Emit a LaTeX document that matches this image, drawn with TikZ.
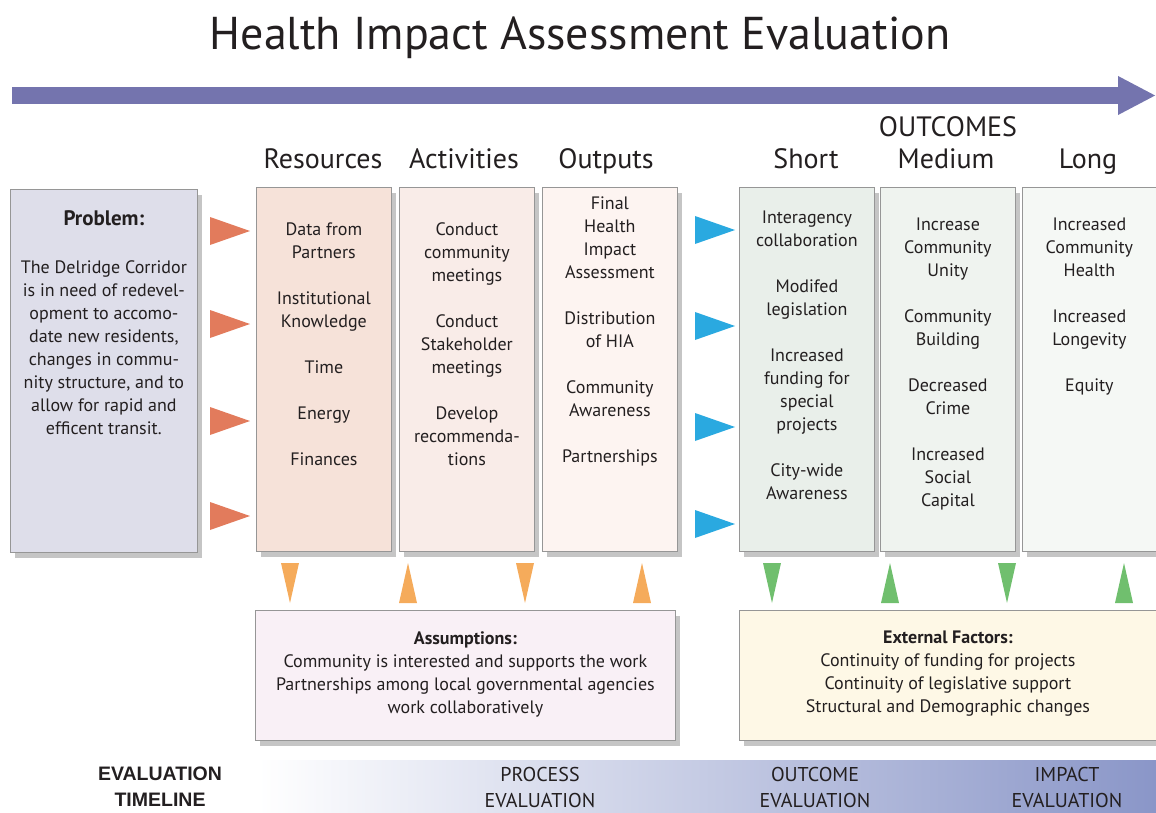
\documentclass[tikz,border=0pt]{standalone}
\usepackage{fontspec}
\setmainfont{PT Sans}
\newfontfamily\tlfont{Liberation Sans}
\usetikzlibrary{shapes,arrows.meta,positioning,shadows}
\definecolor{ink}{RGB}{35,31,32}
\definecolor{boxline}{RGB}{150,150,150}
\definecolor{arrowfill}{RGB}{116,116,174}
\definecolor{probfill}{RGB}{222,222,234}
\definecolor{resfill}{RGB}{246,226,217}
\definecolor{actfill}{RGB}{249,236,232}
\definecolor{outfill}{RGB}{253,244,241}
\definecolor{shortfill}{RGB}{233,239,234}
\definecolor{medfill}{RGB}{239,243,239}
\definecolor{longfill}{RGB}{245,248,245}
\definecolor{assumfill}{RGB}{249,240,246}
\definecolor{extfill}{RGB}{254,248,230}
\definecolor{inorange}{RGB}{226,123,92}
\definecolor{inblue}{RGB}{42,169,224}
\definecolor{loworange}{RGB}{245,171,91}
\definecolor{lowgreen}{RGB}{112,191,110}
\definecolor{tlblue}{RGB}{138,150,200}
\tikzstyle{panel} = [draw=boxline,line width=0.8pt,rectangle,inner sep=0,anchor=north west,drop shadow={shadow xshift=5pt,shadow yshift=-6pt,fill=black!60,opacity=.38}]
\tikzstyle{column} = [panel,minimum width=135pt,minimum height=364pt]
\tikzstyle{head} = [anchor=base,font=\fontsize{28}{30}\selectfont,text=ink,inner sep=0]
\tikzstyle{entries} = [align=center,font=\fontsize{18}{23}\selectfont,text=ink,inner sep=0]
\tikzstyle{notes} = [align=center,font=\fontsize{18}{23}\selectfont,text=ink,inner sep=0]
\tikzstyle{phase} = [align=center,font=\fontsize{20}{26}\selectfont,text=ink,inner sep=0]
\def \gap {23pt}

\begin{document}
\begin{tikzpicture}[x=1pt,y=-1pt]
  \useasboundingbox (0,0) rectangle (1156,813);
  \node[anchor=base,font=\fontsize{46}{50}\selectfont,text=ink] (title) at (580,50) {Health Impact Assessment Evaluation};
  % timeline arrow
  \coordinate (arrowstart) at (12,95.5);
  \coordinate (arrowend) at (1156,95.5);
  \draw[arrowfill,line width=17pt,-{Triangle[length=38pt,width=36pt]}] (arrowstart) -- (arrowend);

  % problem
  \node[panel,fill=probfill,minimum width=187pt,minimum height=363pt] (prob) at (10,189) {};
  \node[entries,font=\fontsize{21}{23}\selectfont\bfseries,below=21pt of prob.north] (probhead) {Problem:};
  \node[entries,below=71pt of prob.north] (probtext) {The Delridge Corridor\\ is in need of redevel-\\ opment to accomo-\\ date new residents,\\ changes in commu-\\ nity structure, and to\\ allow for rapid and\\ efficent transit.};

  % columns
  \node[column,fill=resfill] (res) at (256,187) {};
  \node[column,fill=actfill] (act) at (399,187) {};
  \node[column,fill=outfill] (out) at (542,187) {};
  \node[column,fill=shortfill] (short) at (739,187) {};
  \node[column,fill=medfill] (med) at (880,187) {};
  \node[column,fill=longfill,minimum width=140pt] (long) at (1022,187) {};

  \node[head] (reshead) at (323,169) {Resources};
  \node[head] (acthead) at (464,169) {Activities};
  \node[head] (outhead) at (606,169) {Outputs};
  \node[head] (shorthead) at (806,169) {Short};
  \node[head] (medhead) at (946,169) {Medium};
  \node[head] (longhead) at (1088,169) {Long};
  \node[head] (outcomes) at (948,137) {OUTCOMES};

  \node[entries,below=36pt of res.north] (restext) {Data from\\ Partners\\[\gap] Institutional\\ Knowledge\\[\gap] Time\\[\gap] Energy\\[\gap] Finances};
  \node[entries,below=35pt of act.north] (acttext) {Conduct\\ community\\ meetings\\[\gap] Conduct\\ Stakeholder\\ meetings\\[\gap] Develop\\ recommenda-\\ tions};
  \node[entries,below=10pt of out.north] (outtext) {Final\\ Health\\ Impact\\ Assessment\\[\gap] Distribution\\ of HIA\\[\gap] Community\\ Awareness\\[\gap] Partnerships};
  \node[entries,below=24pt of short.north] (shorttext) {Interagency\\ collaboration\\[\gap] Modifed\\ legislation\\[\gap] Increased\\ funding for\\ special\\ projects\\[\gap] City-wide\\ Awareness};
  \node[entries,below=31pt of med.north] (medtext) {Increase\\ Community\\ Unity\\[\gap] Community\\ Building\\[\gap] Decreased\\ Crime\\[\gap] Increased\\ Social\\ Capital};
  \node[entries,below=31pt of long.north,xshift=-3pt] (longtext) {Increased\\ Community\\ Health\\[\gap] Increased\\ Longevity\\[\gap] Equity};

  % side pointers
  \foreach \y in {231,324,421,516}
    \fill[inorange] (210,\y-14) -- (250,\y) -- (210,\y+14) -- cycle;
  \foreach \y in {230,326,427,524}
    \fill[inblue] (695,\y-14) -- (735,\y) -- (695,\y+14) -- cycle;
  % pointers to assumptions and external factors
  \foreach \x/\d in {290/1,408/-1,525/1,642/-1}
    \fill[loworange] (\x-9,583-20*\d) -- (\x+9,583-20*\d) -- (\x,583+20*\d) -- cycle;
  \foreach \x/\d in {772/1,890/-1,1007/1,1124/-1}
    \fill[lowgreen] (\x-9,583-20*\d) -- (\x+9,583-20*\d) -- (\x,583+20*\d) -- cycle;

  % assumptions and external factors
  \node[panel,fill=assumfill,minimum width=420pt,minimum height=130pt] (assum) at (255,610) {};
  \node[notes,below=21pt of assum.north] (assumtext) {\bfseries Assumptions:\\ Community is interested and supports the work\\ Partnerships among local governmental agencies\\ work collaboratively};
  \node[panel,fill=extfill,minimum width=425pt,minimum height=130pt] (ext) at (739,610) {};
  \node[notes,below=21pt of ext.north,xshift=-4pt] (exttext) {\bfseries External Factors:\\ Continuity of funding for projects\\ Continuity of legislative support\\ Structural and Demographic changes};

  % evaluation timeline
  \shade[left color=white,right color=tlblue] (258,760) rectangle (1156,812);
  \node[phase,font=\tlfont\bfseries\fontsize{19.5}{26}\selectfont] (tllabel) at (160,787) {EVALUATION\\ TIMELINE};
  \node[phase] (process) at (540,787) {PROCESS\\ EVALUATION};
  \node[phase] (outcome) at (815,787) {OUTCOME\\ EVALUATION};
  \node[phase] (impact) at (1067,787) {IMPACT\\ EVALUATION};
\end{tikzpicture}
\end{document}
